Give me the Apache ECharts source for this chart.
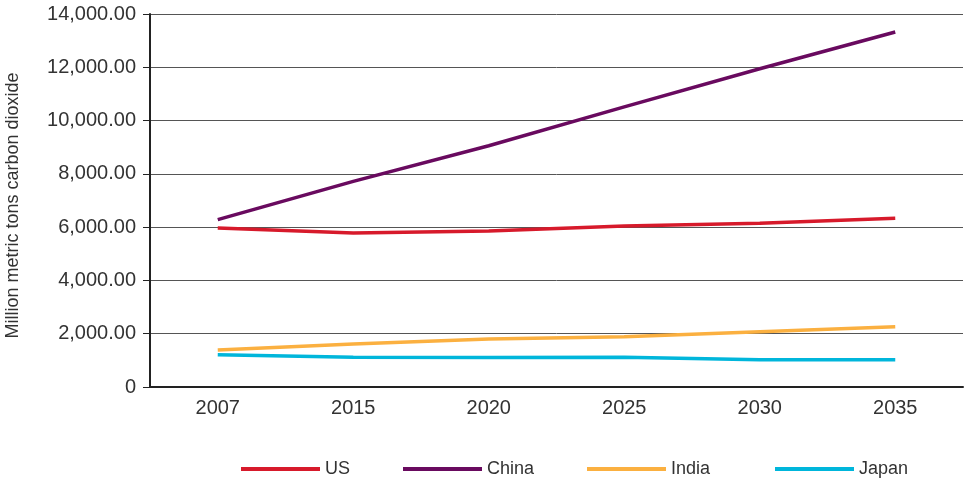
<!DOCTYPE html>
<html><head><meta charset="utf-8">
<script src="https://cdn.jsdelivr.net/npm/echarts@6/dist/echarts.min.js"></script>
<style>html,body{margin:0;padding:0;background:#fff}#c{width:965px;height:483px}</style>
</head><body><div id="c"></div>
<script>
const years = ['2007','2015','2020','2025','2030','2035'];
const us    = [5967, 5780, 5855, 6042, 6143, 6330];
const china = [6284, 7716, 9057, 10514, 11945, 13326];
const india = [1389, 1614, 1800, 1888, 2076, 2263];
const japan = [1213, 1114, 1107, 1114, 1025, 1025];
const yTicks = [0, 2000, 4000, 6000, 8000, 10000, 12000, 14000];
const seriesNames = ['US','China','India','Japan'];

const chart = echarts.init(document.getElementById('c'));
const mk = (name, data, color) => ({
  name, type: 'line', data, symbol: 'none', smooth: false,
  lineStyle: { width: 3.5, color }, itemStyle: { color }
});
const legendLefts = [236, 398, 582, 770];
chart.setOption({
  animation: false,
  grid: { left: 150, right: 2, top: 14, bottom: 96, outerBoundsMode: 'none', containLabel: false },
  legend: seriesNames.map((n, i) => ({
    top: 455, left: legendLefts[i], itemWidth: 79, itemHeight: 4, itemGap: 0,
    icon: 'rect',
    textStyle: { fontFamily: 'Liberation Sans Narrow, Liberation Sans', fontSize: 18, color: '#333', padding: [0,0,0,0] },
    data: [n]
  })),
  xAxis: {
    type: 'category', data: years, boundaryGap: true,
    axisLine: { lineStyle: { color: '#222', width: 2 } },
    axisTick: { inside: true, length: 7, lineStyle: { color: '#222', width: 1 } },
    axisLabel: { fontFamily: 'Liberation Sans', fontSize: 20, color: '#333', margin: 11 }
  },
  yAxis: {
    type: 'value', min: 0, max: 14000, interval: 2000,
    name: 'Million metric tons carbon dioxide', nameLocation: 'middle', nameGap: 128,
    nameTextStyle: { fontFamily: 'Liberation Sans', fontSize: 18, color: '#333', padding: [0,0,0,-10] },
    axisLine: { show: true, lineStyle: { color: '#222', width: 2 } },
    axisTick: { show: true, length: 7, lineStyle: { color: '#222' } },
    splitLine: { lineStyle: { color: '#555', width: 1 } },
    axisLabel: {
      fontFamily: 'Liberation Sans', fontSize: 20, color: '#333', margin: 14,
      formatter: v => yTicks.includes(v) ? (v === 0 ? '0' : v.toLocaleString('en-US', {minimumFractionDigits: 2, maximumFractionDigits: 2})) : ''
    }
  },
  series: [
    mk('US', us, '#d71a2b'),
    mk('China', china, '#690a5f'),
    mk('India', india, '#fbb040'),
    mk('Japan', japan, '#00b6db')
  ]
});
</script></body></html>
